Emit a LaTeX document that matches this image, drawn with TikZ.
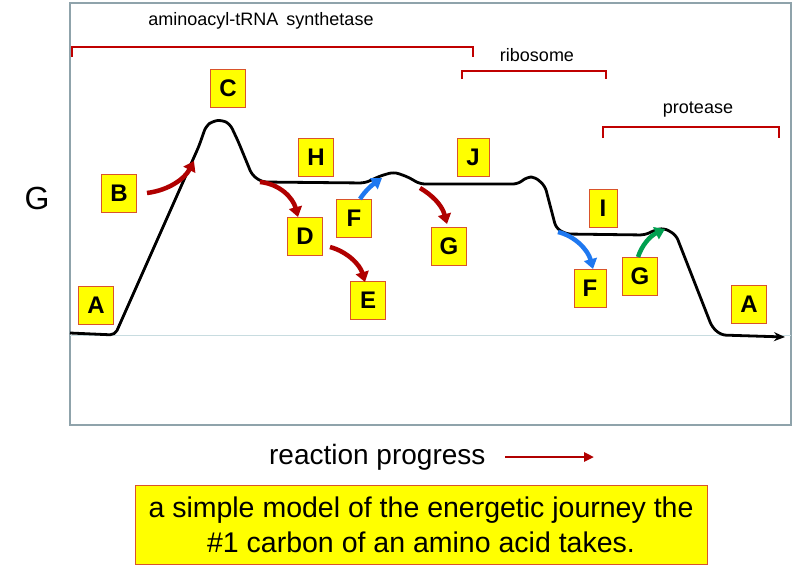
\documentclass[tikz,border=0pt]{standalone}
\usepackage{fontspec}
\setmainfont{Liberation Sans}
\usetikzlibrary{arrows.meta}
\definecolor{boxfill}{HTML}{FFFF00}
\definecolor{boxedge}{HTML}{D9542B}
\definecolor{brk}{HTML}{C00000}
\definecolor{arred}{HTML}{B00000}
\definecolor{arblue}{HTML}{1E78F0}
\definecolor{argreen}{HTML}{00A050}
\definecolor{frame}{HTML}{8FA3AB}
\definecolor{baseln}{HTML}{C8DCE0}
\begin{document}
\begin{tikzpicture}[x=1pt,y=-1pt,
  lbl/.style={draw=boxedge, fill=boxfill, line width=0.9pt, minimum width=35pt, minimum height=38pt, inner sep=0pt, font=\fontsize{24}{24}\selectfont\bfseries},
  brkline/.style={draw=brk, line width=2.3pt},
  small/.style={font=\fontsize{18}{18}\selectfont},
  carr/.style={line width=4.5pt, -{Triangle[width=13pt,length=10pt]}},
  energy/.style={line width=2.8pt, line join=round, rounded corners=5pt}
]
\useasboundingbox (0,0) rectangle (800,573);
\fill[white] (0,0) rectangle (800,573);
% frame
\draw[frame, line width=1.8pt] (70,3) rectangle (791,425);
\draw[baseln, line width=1pt] (70,335) -- (791,335);
% axis label
\node[font=\fontsize{32}{32}\selectfont] (gax) at (37,198) {G};
% brackets
\draw[brkline] (72,57) -- (72,47) -- (473,47) -- (473,57);
\node[small] (aats) at (261,21) {aminoacyl-tRNA\, synthetase};
\draw[brkline] (462,79) -- (462,71) -- (606,71) -- (606,79);
\node[small] (ribo) at (537,55) {ribosome};
\draw[brkline] (603,138) -- (603,127) -- (779,127) -- (779,138);
\node[small] (prot) at (698,110) {protease};
% energy curve
\draw[energy, -{Stealth[length=11pt,width=9pt]}] (70,333) -- (115,335) -- (199,146) -- (206,126) -- (213,121) -- (222,120) -- (230,124) -- (238,141) -- (252,175) -- (262,182) -- (365,183) -- (380,176) -- (394,172) -- (408,177) -- (420,184) -- (518,184) -- (527,177) -- (535,177) -- (545,186) -- (556,228) -- (566,234) -- (645,235) -- (655,230) -- (664,228) -- (676,235) -- (712,327) -- (721,335) -- (785,337);
% labels
\node[lbl] (A1) at (96,305) {A};
\node[lbl] (B) at (119,193) {B};
\node[lbl] (C) at (228,88) {C};
\node[lbl] (H) at (316,157) {H};
\node[lbl] (D) at (305,236) {D};
\node[lbl] (F1) at (354,218) {F};
\node[lbl] (E) at (368,300) {E};
\node[lbl] (G1) at (449,246) {G};
\node[lbl, minimum width=32pt] (J) at (473,157) {J};
\node[lbl, minimum width=28pt] (I) at (603,208) {I};
\node[lbl, minimum width=32pt] (F2) at (590,288) {F};
\node[lbl] (G2) at (640,276) {G};
\node[lbl] (A2) at (749,304) {A};
% arrow end points
\coordinate (bs) at (147,193); \coordinate (be) at (194,161);
\coordinate (hs) at (260,182); \coordinate (he) at (298,217);
\coordinate (ds) at (330,247); \coordinate (de) at (365,282);
\coordinate (fs) at (360,199); \coordinate (fe) at (382,178);
\coordinate (gs) at (420,188); \coordinate (ge) at (447,224);
\coordinate (f2s) at (558,232); \coordinate (f2e) at (593,269);
\coordinate (g2s) at (638,257); \coordinate (g2e) at (665,229);
\draw[carr, arred] (bs) .. controls (170,190) and (185,178) .. (be);
\draw[carr, arred] (hs) .. controls (280,184) and (293,198) .. (he);
\draw[carr, arred] (ds) .. controls (348,252) and (360,265) .. (de);
\draw[carr, arblue] (fs) .. controls (365,191) and (372,185) .. (fe);
\draw[carr, arred] (gs) .. controls (432,195) and (442,205) .. (ge);
\draw[carr, arblue] (f2s) .. controls (575,236) and (588,250) .. (f2e);
\draw[carr, argreen] (g2s) .. controls (642,245) and (650,236) .. (g2e);
% x axis label
\node[font=\fontsize{28}{28}\selectfont, anchor=east] (rp) at (489,457) {reaction progress};
\coordinate (rpe) at (594,457);
\draw[arred, line width=2.6pt, -{Triangle[width=9pt,length=10pt]}] ([xshift=16pt]rp.east) -- (rpe);
% caption
\node[draw=boxedge, fill=boxfill, line width=0.9pt, minimum width=572pt, minimum height=79pt, align=center, font=\fontsize{28.5}{35}\selectfont] (cap) at (421,524.5) {a simple model of the energetic journey the\\ \#1 carbon of an amino acid takes.};
\end{tikzpicture}
\end{document}
